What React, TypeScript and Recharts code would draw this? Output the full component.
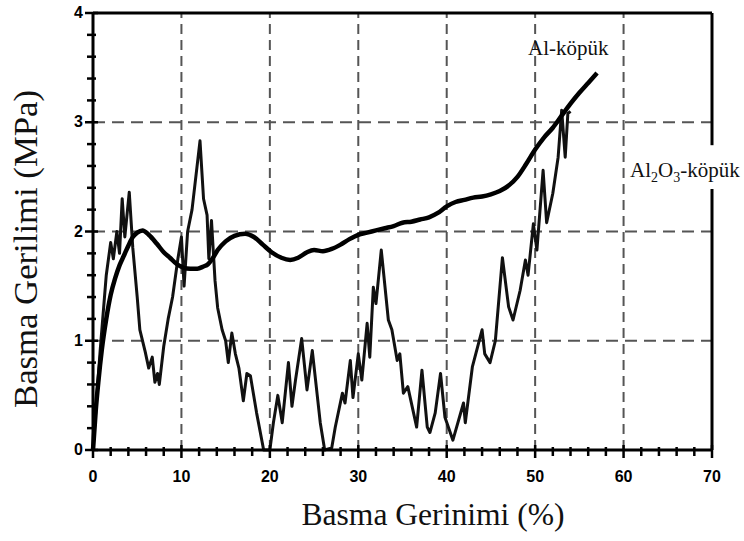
import React from "react";
import { LineChart, Line, XAxis, YAxis, ReferenceLine } from "recharts";

// Al-köpük (thick smooth curve)
const alStrain = [
  0, 0.3, 0.6, 1, 1.5, 2, 2.5, 3, 3.5, 4, 4.5, 5, 5.6, 6.3, 7.2, 8, 8.7, 9.5, 10.2, 11, 11.8, 12.5, 13,
  13.5, 14.1, 15, 16, 17.2, 18.2, 19.2, 20.2, 21.3, 22.3, 23.2, 24.2, 25, 26, 27, 28, 29, 30, 31, 32,
  33, 34, 35, 36, 37, 38, 39, 40, 41, 42, 43, 44, 45, 46, 47, 48, 49, 50, 51, 52, 53, 54, 55, 56, 57,
];
const alStress = [
  0, 0.35, 0.62, 0.92, 1.2, 1.42, 1.57, 1.69, 1.78, 1.87, 1.95, 1.99, 2.01, 1.97, 1.89, 1.81, 1.76,
  1.7, 1.67, 1.66, 1.66, 1.68, 1.7, 1.75, 1.83, 1.91, 1.96, 1.98, 1.95, 1.88, 1.81, 1.76, 1.74, 1.76,
  1.81, 1.83, 1.82, 1.84, 1.88, 1.93, 1.97, 1.99, 2.01, 2.03, 2.05, 2.08, 2.09, 2.11, 2.13, 2.17, 2.23,
  2.27, 2.29, 2.31, 2.32, 2.34, 2.37, 2.42, 2.5, 2.62, 2.75, 2.86, 2.95, 3.06, 3.17, 3.27, 3.36, 3.45,
];

// Al2O3-köpük (thin jagged curve)
const aluminaStrain = [
  0, 0.8, 1.5, 2, 2.3, 2.7, 3, 3.3, 3.6, 4.1, 4.5, 5, 5.3, 5.9, 6.3, 6.7, 7, 7.3, 7.5, 8, 8.5, 9, 9.6,
  10, 10.3, 10.7, 11.2, 12.1, 12.5, 12.9, 13.1, 13.4, 13.8, 14.1, 14.6, 15, 15.3, 15.7, 16.1, 16.5, 17,
  17.4, 17.8, 18.5, 19.3, 20, 20.4, 20.9, 21.4, 22.1, 22.5, 22.9, 23.6, 24.2, 24.8, 25.7, 26.2, 27,
  27.4, 28.2, 28.5, 29.1, 29.4, 30, 30.4, 31, 31.3, 31.7, 32, 32.6, 33.4, 33.8, 34.4, 34.7, 35.1, 35.6,
  36.6, 37.2, 37.8, 38.1, 38.7, 39.3, 39.8, 40.7, 41.9, 42.1, 42.9, 44, 44.3, 44.9, 45.5, 46.3, 47,
  47.5, 48.3, 48.9, 49.2, 49.8, 50.2, 50.9, 51.3, 52, 52.6, 53, 53.4, 53.7, 54,
];
const aluminaStress = [
  0, 0.9, 1.6, 1.9, 1.75, 2.0, 1.8, 2.3, 1.95, 2.36, 1.85, 1.4, 1.1, 0.9, 0.75, 0.85, 0.62, 0.7, 0.6,
  0.95, 1.2, 1.4, 1.75, 1.95, 1.5, 2.0, 2.2, 2.83, 2.3, 2.15, 1.75, 2.1, 1.55, 1.3, 1.1, 1.0, 0.8, 1.07,
  0.88, 0.75, 0.45, 0.7, 0.68, 0.34, 0, 0, 0.25, 0.5, 0.25, 0.8, 0.4, 0.64, 1.02, 0.55, 0.91, 0.25, 0,
  0.02, 0.21, 0.52, 0.43, 0.82, 0.48, 0.88, 0.64, 1.16, 0.85, 1.49, 1.34, 1.83, 1.19, 1.1, 0.82, 0.88,
  0.52, 0.58, 0.21, 0.73, 0.21, 0.16, 0.34, 0.7, 0.3, 0.09, 0.43, 0.25, 0.76, 1.1, 0.88, 0.8, 1.0,
  1.76, 1.31, 1.19, 1.46, 1.74, 1.6, 2.07, 1.83, 2.56, 2.08, 2.35, 2.68, 3.11, 2.68, 3.08, 3.1,
];

const xTicks = [0, 2, 4, 6, 8, 10, 12, 14, 16, 18, 20, 22, 24, 26, 28, 30, 32, 34, 36, 38, 40, 42, 44, 46, 48, 50, 52, 54, 56, 58, 60, 62, 64, 66, 68, 70];
const yTicks = [0, 0.2, 0.4, 0.6, 0.8, 1, 1.2, 1.4, 1.6, 1.8, 2, 2.2, 2.4, 2.6, 2.8, 3, 3.2, 3.4, 3.6, 3.8, 4];
const xGrid = [10, 20, 30, 40, 50, 60];
const yGrid = [1, 2, 3];

const alData = alStrain.map((x, i) => ({ x, y: alStress[i] }));
const aluminaData = aluminaStrain.map((x, i) => ({ x, y: aluminaStress[i] }));

const tickFont = { fontFamily: "'Liberation Sans', Arial, sans-serif", fontWeight: 700, fontSize: 16 };

// tick marks cross the axis line, labels only on every 10 / every 1
const XTick = (props: any) => {
  const { x, y, payload } = props;
  const v = payload.value;
  const major = v % 10 === 0;
  return (
    <g>
      <path d={`M${x},${y - (major ? 5 : 3)}V${y + (major ? 8 : 6)}`} stroke="#000" strokeWidth={2.5} fill="none" />
      {major && (
        <text x={x} y={y + 32} textAnchor="middle" fill="#000" stroke="none" {...tickFont}>
          {v}
        </text>
      )}
    </g>
  );
};

const YTick = (props: any) => {
  const { x, y, payload } = props;
  const v = payload.value;
  const major = Math.abs(v - Math.round(v)) < 1e-6;
  return (
    <g>
      <path d={`M${x - (major ? 8 : 6)},${y}H${x + (major ? 5 : 3)}`} stroke="#000" strokeWidth={2.5} fill="none" />
      {major && (
        <text x={x - 10} y={y + 5} textAnchor="end" fill="#000" stroke="none" {...tickFont}>
          {v}
        </text>
      )}
    </g>
  );
};

const serif = "'Liberation Serif', 'Times New Roman', serif";

export default function App() {
  return (
    <div style={{ position: "absolute", left: 0, top: 0, width: 744, height: 541, background: "#fff" }}>
      <LineChart width={744} height={541} margin={{ top: 13, right: 32, bottom: 51, left: 33 }}>
        <XAxis
          dataKey="x"
          type="number"
          domain={[0, 70]}
          ticks={xTicks}
          interval={0}
          tickSize={0}
          tickMargin={0}
          tickLine={false}
          tick={<XTick />}
          height={40}
          axisLine={{ stroke: "#000", strokeWidth: 3 }}
          label={{
            content: () => (
              <text x={433} y={525} textAnchor="middle" fontFamily={serif} fontSize={31} fill="#111"
                textLength={263} lengthAdjust="spacingAndGlyphs">
                Basma Gerinimi (%)
              </text>
            ),
          }}
        />
        <YAxis
          type="number"
          domain={[0, 4]}
          ticks={yTicks}
          interval={0}
          tickSize={0}
          tickMargin={0}
          tickLine={false}
          tick={<YTick />}
          width={60}
          axisLine={{ stroke: "#000", strokeWidth: 3 }}
          label={{
            content: () => (
              <text x={37} y={249} transform="rotate(-90 37 249)" textAnchor="middle" fontFamily={serif}
                fontSize={34} fill="#111" textLength={318} lengthAdjust="spacingAndGlyphs">
                Basma Gerilimi (MPa)
              </text>
            ),
          }}
        />
        {xGrid.map((v) => (
          <ReferenceLine key={"gx" + v} x={v} stroke="#555" strokeWidth={2} strokeDasharray="10 6" />
        ))}
        {yGrid.map((v) => (
          <ReferenceLine key={"gy" + v} y={v} stroke="#555" strokeWidth={2} strokeDasharray="12 7" />
        ))}
        <ReferenceLine y={4} stroke="#000" strokeWidth={3} ifOverflow="visible" />
        <ReferenceLine segment={[{ x: 70, y: 0 }, { x: 70, y: 2.39 }]} stroke="#000" strokeWidth={3} ifOverflow="visible" />
        <ReferenceLine segment={[{ x: 70, y: 2.79 }, { x: 70, y: 4 }]} stroke="#000" strokeWidth={3} ifOverflow="visible" />
        <Line data={aluminaData} dataKey="y" type="linear" stroke="#111" strokeWidth={3} strokeLinejoin="round" dot={false} isAnimationActive={false} />
        <Line data={alData} dataKey="y" type="monotone" stroke="#000" strokeWidth={4.5} dot={false} isAnimationActive={false} />
      </LineChart>
      <svg width={744} height={541} style={{ position: "absolute", left: 0, top: 0, pointerEvents: "none" }}>
        <text x={528} y={55} fontFamily={serif} fontSize={21} fill="#111">Al-köpük</text>
        <text x={630} y={177} fontFamily={serif} fontSize={21} fill="#111">
          Al<tspan fontSize={14} dy={5}>2</tspan>
          <tspan dy={-5}>O</tspan>
          <tspan fontSize={14} dy={5}>3</tspan>
          <tspan dy={-5}>-köpük</tspan>
        </text>
      </svg>
    </div>
  );
}
